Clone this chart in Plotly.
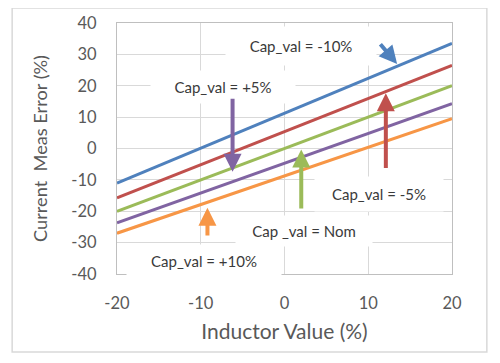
import plotly.graph_objects as go

inductor = [-20, -10, 0, 10, 20]
series_names = ["Cap_val = -10%", "Cap_val = -5%", "Cap_val = Nom", "Cap_val = +5%", "Cap_val = +10%"]
err_m10 = [-11.0, 0.1, 11.2, 22.4, 33.5]
err_m5 = [-15.7, -5.2, 5.4, 15.9, 26.5]
err_nom = [-20.0, -10.0, 0.0, 10.0, 20.0]
err_p5 = [-23.7, -14.2, -4.7, 4.8, 14.3]
err_p10 = [-27.0, -17.9, -8.8, 0.3, 9.5]
x_ticks = [-20, -10, 0, 10, 20]
x_tick_labels = ["-20", "-10", "0", "10", "20"]
y_ticks = [-40, -30, -20, -10, 0, 10, 20, 30, 40]
y_tick_labels = ["-40", "-30", "-20", "-10", "0", "10", "20", "30", "40"]

colors = ["#4F81BD", "#C0504D", "#9BBB59", "#8064A2", "#F79646"]
values = [err_m10, err_m5, err_nom, err_p5, err_p10]

fig = go.Figure()
for name, vals, c in zip(series_names, values, colors):
    fig.add_trace(go.Scatter(x=inductor, y=vals, mode="lines", name=name,
                             line=dict(color=c, width=3)))

font_family = "Lato"
txt_col = "#3a3a3a"

# label boxes: (text, x, y, width, height)
labels = [
    ("Cap_val = -10%", 2.0, 32.7, 148, 36),
    ("Cap_val = +5%", -7.3, 19.6, 142, 30),
    ("Cap_val = -5%", 11.3, -14.4, 126, 32),
    ("Cap _val = Nom", 2.3, -26.3, 134, 28),
    ("Cap_val = +10%", -9.6, -35.9, 152, 30),
]
for t, x, y, w, h in labels:
    fig.add_annotation(x=x, y=y, xref="x", yref="y", text=t, showarrow=False,
                       bgcolor="white", width=w, height=h,
                       font=dict(family=font_family, size=15, color=txt_col))

# arrows: (head x, head y, tail x, tail y, color)
arrows = [
    (13.45, 26.9, 11.3, 33.7, colors[0]),
    (-6.2, -7.4, -6.2, 16.3, colors[3]),
    (2.0, -0.3, 2.0, -19.6, colors[2]),
    (12.1, 17.6, 12.1, -6.7, colors[1]),
    (-9.2, -18.9, -9.2, -28.2, colors[4]),
]
for hx, hy, tx, ty, c in arrows:
    fig.add_annotation(x=hx, y=hy, ax=tx, ay=ty, xref="x", yref="y",
                       axref="x", ayref="y", text="", showarrow=True,
                       arrowhead=2, arrowsize=0.9, arrowwidth=4, arrowcolor=c)

# outer chart border
fig.add_shape(type="rect", xref="paper", yref="paper",
              x0=-0.313, x1=1.104, y0=-0.311, y1=1.06,
              line=dict(color="#d9d9d9", width=1.5), fillcolor="rgba(0,0,0,0)",
              layer="below")

fig.update_layout(
    width=492, height=355,
    margin=dict(l=109, r=48, t=15, b=89),
    paper_bgcolor="white", plot_bgcolor="white",
    showlegend=False,
    font=dict(family=font_family, color="#595959"),
)
fig.update_xaxes(range=[-20, 20], tickvals=x_ticks, ticktext=x_tick_labels,
                 showgrid=True, automargin=False,
                 gridcolor="#d9d9d9", gridwidth=1.2, showline=True, mirror=True,
                 linecolor="#bfbfbf", linewidth=1.2, zeroline=False,
                 tickfont=dict(size=16.5, color="#595959"), ticklabelstandoff=14,
                 title=dict(text="Inductor Value (%)", font=dict(size=21, color="#595959"),
                            standoff=12))
fig.update_yaxes(range=[-40, 40], tickvals=y_ticks, ticktext=y_tick_labels,
                 showgrid=True, automargin=False,
                 gridcolor="#d9d9d9", gridwidth=1.2, showline=True, mirror=True,
                 linecolor="#bfbfbf", linewidth=1.2, zeroline=False,
                 tickfont=dict(size=16.5, color="#595959"), ticklabelstandoff=16,
                 title=dict(text="Current  Meas Error (%)", font=dict(size=18.2, color="#595959"),
                            standoff=18))

fig.write_html("out.html")
